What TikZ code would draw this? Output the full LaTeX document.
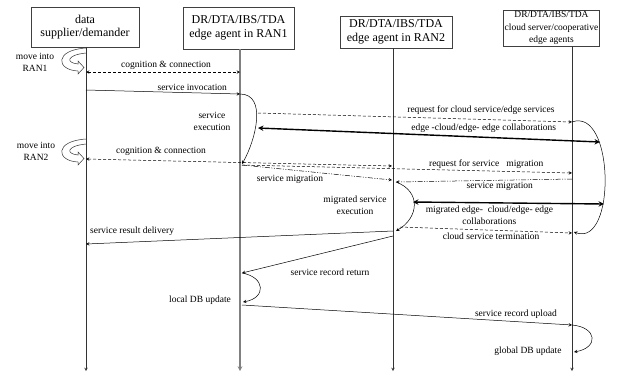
\documentclass[tikz,border=0pt]{standalone}
\usepackage{fontspec}
\setmainfont{Liberation Serif}
\begin{document}
\begin{tikzpicture}[>=stealth, x=1pt, y=-1pt, line width=0.5pt,
    head/.style={draw=black!75, align=center, inner sep=1pt,
      font=\fontsize{12}{13.5}\selectfont},
    life/.style={->, black!80},
    dsh/.style={->, dash pattern=on 3pt off 2pt},
    mig/.style={->, dash pattern=on 5pt off 1.5pt on 1pt off 1.5pt on 1pt off 1.5pt},
    collab/.style={<->, line width=1.4pt},
    lbl/.style={font=\fontsize{9.5}{12}\selectfont, align=center, inner sep=2pt}]
  \useasboundingbox (0,0) rectangle (641,376);

  % heads of the four lifelines
  \node (user) [head, minimum width=108pt, minimum height=40pt] at (85,27) {data\\supplier/demander};
  \node (ran1) [head, minimum width=111pt, minimum height=42pt] at (238.5,28) {DR/DTA/IBS/TDA\\edge agent in RAN1};
  \node (ran2) [head, minimum width=112pt, minimum height=32pt] at (396,32) {DR/DTA/IBS/TDA\\edge agent in RAN2};
  \node (cloud) [head, font=\fontsize{9.5}{12.5}\selectfont, minimum width=95pt, minimum height=36pt]
    at (551.5,28) {DR/DTA/IBS/TDA\\cloud server/cooperative\\edge agents};

  \coordinate (e1) at (86,371);
  \coordinate (e2) at (240,371);
  \coordinate (e3) at (393,371);
  \coordinate (e4) at (572,371);
  \draw[life] (user.south -| e1) -- (e1);
  \draw[life, gray, line width=1.1pt] (ran1.south -| e2) -- (e2);
  \draw[life] (ran2.south -| e3) -- (e3);
  \draw[life] (cloud.south -| e4) -- (e4);

  % points where the messages meet the lifelines
  \foreach \n/\x/\y in {c1a/86/72, c1b/240/72, inv1/86/90, inv2/240/94, ex2/242/164,
      rq1/258/113, rq2/572/122, co1/258/128, co2/600/142, cl2/574/232,
      c2a/86/159, c2b/392/166, rm1/242/165, rm2/572/173,
      sm1/242/165, sm2/392/180, sm3/572/179, sm4/396/182, mx2/396/231,
      mc1/413/202, mc2/604/204, te1/400/227, te2/572/233,
      rd1/393/231, rd2/86/244, rr1/393/236, rr2/242/273, db2/243/302,
      up1/242/305, up2/572/325, gd2/574/352}
    \coordinate (\n) at (\x,\y);

  % moving between the RANs
  \foreach \dy in {0,91}
    \draw[black!80, yshift=-\dy pt] (86,48) .. controls (54,50) and (56,70) .. (78,71)
      -- (78,74) -- (84,67.5) -- (78,61) -- (78,64) .. controls (66,63) and (66,55) .. (86,53);
  \node (mv1) [lbl] at (35,62) {move into\\RAN1};
  \node (mv2) [lbl] at (36,151) {move into\\RAN2};

  \draw[dsh, <->] (c1a) -- node[lbl, pos=0.52, above] (cog1) {cognition \& connection} (c1b);
  \draw[->] (inv1) -- node[lbl, pos=0.69, above] (invl) {service invocation} (inv2);
  \draw[->] (inv2) to[out=0, in=60] (ex2);
  \node (exl) [lbl] at (212,121) {service\\execution};
  \draw[dsh] (rq1) -- node[lbl, pos=0.71, above=3pt] (rql) {request for cloud service/edge services} (rq2);
  \draw[collab] (co1) -- node[lbl, pos=0.66, above=2pt] (col) {edge -cloud/edge- edge collaborations} (co2);
  \draw[->] (rq2) to[out=20, in=-20, looseness=1.05] (cl2);

  \draw[dsh, <->] (c2a) -- node[lbl, pos=0.245, above=3pt] (cog2) {cognition \& connection} (c2b);
  \draw[dsh] (rm1) -- node[lbl, pos=0.74, above] (rml) {request for service~~~migration} (rm2);
  \draw[mig] (sm1) -- node[lbl, pos=0.32, below=3pt] (sml1) {service migration} (sm2);
  \draw[mig] (sm3) -- node[lbl, pos=0.41, below] (sml2) {service migration} (sm4);
  \draw[->] (sm4) to[out=-20, in=30, looseness=1.4] (mx2);
  \node (mxl) [lbl] at (355,205) {migrated service\\execution};
  \draw[collab] (mc1) -- node[lbl, pos=0.4, below] (mcl) {migrated edge-~~cloud/edge- edge\\collaborations} (mc2);
  \draw[dsh] (te1) -- node[lbl, pos=0.53, below] (tel) {cloud service termination} (te2);

  \draw[->] (rd1) -- node[lbl, pos=0.85, above=4pt] (rdl) {service result delivery} (rd2);
  \draw[->] (rr1) -- (rr2);
  \node (rrl) [lbl] at (330,272) {service record return};
  \draw[->] (rr2) to[out=-10, in=10, looseness=2.1] (db2);
  \node (dbl) [lbl] at (200,300) {local DB update};
  \draw[->] (up1) -- node[lbl, pos=0.83, above=1pt] (upl) {service record upload} (up2);
  \draw[->] (up2) to[out=-5, in=10, looseness=2.4] (gd2);
  \node (gdl) [lbl] at (528,351) {global DB update};
\end{tikzpicture}
\end{document}
